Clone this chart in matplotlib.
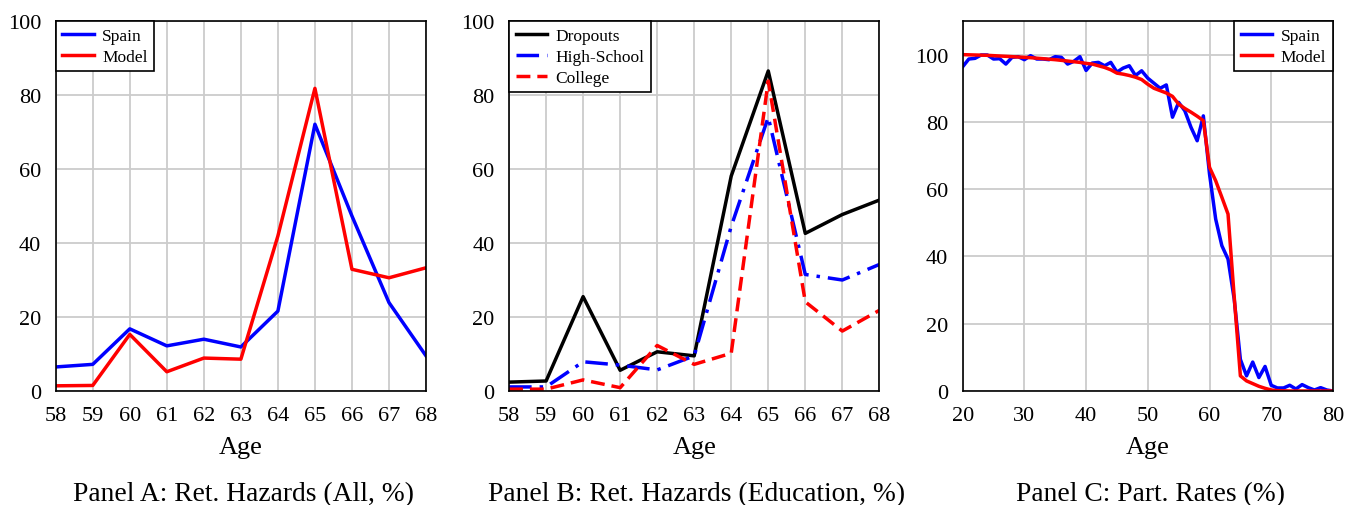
import matplotlib
matplotlib.use("Agg")
import matplotlib.pyplot as plt

plt.rcParams['font.family'] = ['Liberation Serif', 'DejaVu Serif']

# Panel A: retirement hazards, all
ages_a = [58, 59, 60, 61, 62, 63, 64, 65, 66, 67, 68]
spain_a = [6.5, 7.2, 16.8, 12.2, 14.0, 11.9, 21.6, 72.1, 47.3, 23.9, 9.5]
model_a = [1.4, 1.5, 15.3, 5.2, 8.9, 8.6, 41.9, 81.8, 32.9, 30.6, 33.3]

# Panel B: retirement hazards by education
dropouts = [2.4, 2.7, 25.5, 5.6, 10.6, 9.5, 58.1, 86.5, 42.6, 47.7, 51.6]
highschool = [1.1, 1.1, 7.9, 7.0, 5.7, 9.5, 44.5, 74.0, 31.5, 30.0, 34.2]
college = [0.5, 0.5, 3.0, 0.9, 12.3, 7.2, 10.2, 83.8, 24.1, 16.2, 21.8]

# Panel C: participation rates
ages_c = list(range(20, 81))
spain_c = [96.4, 98.7, 98.9, 99.9, 99.9, 98.7, 98.8, 97.2, 99.2, 99.4,
           98.5, 99.7, 98.7, 98.7, 98.5, 99.4, 99.2, 97.2, 98.0, 99.4,
           95.3, 97.5, 97.7, 96.7, 97.7, 94.8, 96.0, 96.7, 93.8, 95.2,
           93.0, 91.5, 90.0, 91.0, 81.4, 85.8, 83.3, 78.4, 74.4, 81.8,
           64.5, 51.1, 43.2, 39.2, 27.3, 9.4, 4.5, 8.6, 4.0, 7.3,
           1.7, 0.9, 0.9, 1.7, 0.6, 1.9, 1.0, 0.3, 1.0, 0.3, 0.0]
model_c = [100.0, 99.95, 99.9, 99.85, 99.8, 99.7, 99.6, 99.5, 99.4, 99.3,
           99.2, 99.1, 98.95, 98.8, 98.65, 98.5, 98.3, 98.1, 97.9, 97.7,
           97.4, 97.2, 96.7, 96.2, 95.5, 94.5, 94.2, 93.8, 93.3, 92.6,
           91.2, 90.0, 89.3, 88.6, 87.6, 85.3, 84.0, 82.9, 81.7, 80.4,
           66.5, 62.5, 57.6, 52.6, 28.0, 4.5, 3.0, 2.2, 1.4, 0.8,
           0.3, 0.1, 0.05, 0.0, 0.0, 0.0, 0.0, 0.0, 0.0, 0.0, 0.0]

titles = ['Panel A: Ret. Hazards (All, %)',
          'Panel B: Ret. Hazards (Education, %)',
          'Panel C: Part. Rates (%)']

fig = plt.figure(figsize=(13.46, 5.06), dpi=100)
lefts = [0.0414, 0.3782, 0.7152]
axes = [fig.add_axes([l, 0.2253, 0.2751, 0.7312]) for l in lefts]

lw = 2.5
grid_col = '#cccccc'

for ax in axes:
    ax.grid(True, color=grid_col, linewidth=1.3)
    ax.set_axisbelow(True)
    ax.tick_params(length=0, labelsize=16)
    ax.tick_params(axis='x', pad=11)
    ax.tick_params(axis='y', pad=10.5)
    for s in ax.spines.values():
        s.set_linewidth(1.2)
        s.set_color('black')
    ax.set_xlabel('Age', fontsize=19, labelpad=8)

ax = axes[0]
ax.plot(ages_a, spain_a, color='#0000ff', lw=lw, label='Spain')
ax.plot(ages_a, model_a, color='#ff0000', lw=lw, label='Model')
ax.set_xlim(58, 68)
ax.set_ylim(0, 100)
ax.set_xticks(ages_a)
ax.set_yticks(range(0, 101, 20))

ax = axes[1]
ax.plot(ages_a, dropouts, color='black', lw=lw, label='Dropouts')
ax.plot(ages_a, highschool, color='#0000ff', lw=lw, dashes=(6.5, 2.3, 1.0, 2.3),
        label='High-School')
ax.plot(ages_a, college, color='#ff0000', lw=lw, dashes=(4.0, 2.0),
        label='College')
ax.set_xlim(58, 68)
ax.set_ylim(0, 100)
ax.set_xticks(ages_a)
ax.set_yticks(range(0, 101, 20))

ax = axes[2]
ax.plot(ages_c, spain_c, color='#0000ff', lw=lw, label='Spain')
ax.plot(ages_c, model_c, color='#ff0000', lw=lw, label='Model')
ax.set_xlim(20, 80)
ax.set_ylim(0, 110)
ax.set_xticks(range(20, 81, 10))
ax.set_yticks(range(0, 101, 20))

for ax, loc in zip(axes, ['upper left', 'upper left', 'upper right']):
    leg = ax.legend(loc=loc, fontsize=12.5, fancybox=False, framealpha=1,
                    edgecolor='black', borderaxespad=0, handlelength=1.8,
                    handletextpad=0.5, borderpad=0.38, labelspacing=0.28)
    leg.get_frame().set_linewidth(1.2)

for l, t in zip(lefts, titles):
    fig.text(l + 0.2751 / 2 + 0.002, 0.009, t, ha='center', va='baseline',
             fontsize=19.8)

fig.savefig('out.png', dpi=100)
